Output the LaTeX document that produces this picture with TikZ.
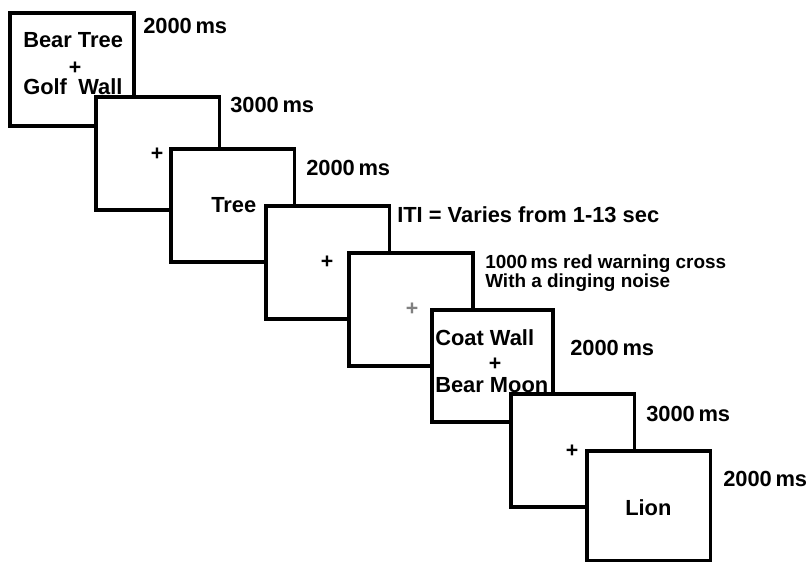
\documentclass[tikz,border=0pt]{standalone}
\usepackage{fontspec}
\setmainfont{Liberation Sans}
\begin{document}
\begin{tikzpicture}[x=0.75pt,y=-0.75pt,
  stimbox/.style={draw=black,fill=white,line width=2.3pt,anchor=north west,
    inner sep=0pt,outer sep=0pt,minimum width=92.5pt,minimum height=84.75pt},
  lbl/.style={anchor=base west,inner sep=0pt,font=\fontsize{16.4}{19}\selectfont\bfseries},
  small/.style={anchor=base west,inner sep=0pt,align=left,
    font=\fontsize{14.2}{14.5}\selectfont\bfseries},
  fix/.style={anchor=center,inner sep=0pt,font=\fontsize{16}{19}\selectfont\bfseries}]
\useasboundingbox (0,0) rectangle (811,563);
\fill[white] (0,0) rectangle (811,563);
% box 1
\node[stimbox,minimum width=93pt] (b1) at (10,13) {};
\node[lbl] (t1a) at (23,48) {Bear Tree};
\node[fix] (p1) at (75,68) {+};
\node[lbl] (t1b) at (23,95) {Golf};
\node[lbl] (t1c) at (78,95) {Wall};
\node[lbl] (d1) at (143,34) {2000\,ms};
% box 2
\node[stimbox] (b2) at (96,97) {};
\node[fix] (p2) at (157,154) {+};
\node[lbl] (d2) at (230,113) {3000\,ms};
% box 3
\node[stimbox] (b3) at (171,149) {};
\node[lbl] (t3) at (211,213) {Tree};
\node[lbl] (d3) at (306,176) {2000\,ms};
% box 4
\node[stimbox] (b4) at (266,206) {};
\node[fix] (p4) at (327,262) {+};
\node[lbl] (d4) at (397,223) {ITI = Varies from 1-13 sec};
% box 5
\node[stimbox,minimum width=93pt] (b5) at (349,253) {};
\node[fix,text=gray] (p5) at (412,309) {+};
\node[small] (d5a) at (485,268) {1000\,ms red warning cross};
\node[small] (d5b) at (485,287) {With a dinging noise};
% box 6
\node[stimbox,minimum width=90.75pt,minimum height=84pt] (b6) at (432,310) {};
\node[lbl] (t6a) at (435,345) {Coat Wall};
\node[fix] (p6) at (495,364) {+};
\node[lbl] (t6b) at (435,392) {Bear Moon};
\node[lbl] (d6) at (570,355) {2000\,ms};
% box 7
\node[stimbox] (b7) at (511,394) {};
\node[fix] (p7) at (572,451) {+};
\node[lbl] (d7) at (646,421) {3000\,ms};
% box 8
\node[stimbox,minimum height=82pt] (b8) at (587,451) {};
\node[lbl] (t8) at (625,515) {Lion};
\node[lbl] (d8) at (723,486) {2000\,ms};
\end{tikzpicture}
\end{document}
